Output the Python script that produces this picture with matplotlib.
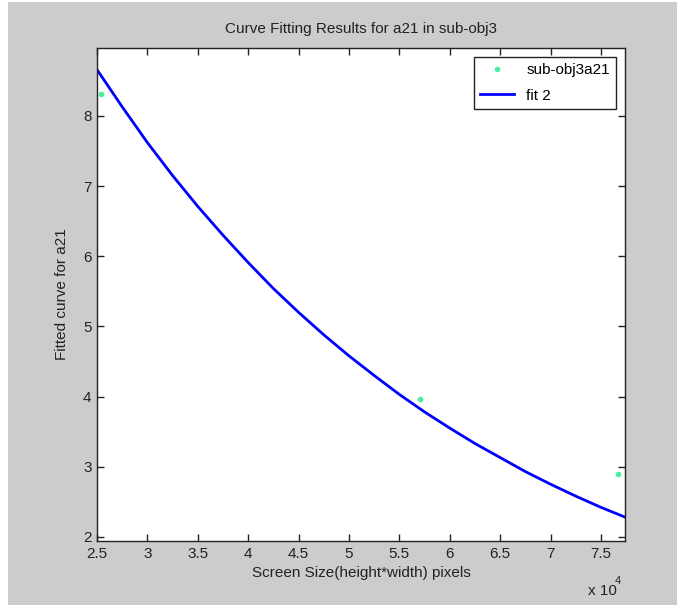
import numpy as np
import matplotlib.pyplot as plt
from matplotlib.patches import Rectangle
from matplotlib.ticker import FuncFormatter

# measured a21 values for sub-obj3
screen_size = [25400, 57040, 76720]
a21 = [8.32, 3.96, 2.90]

# fitted curve (fit 2) sampled along the screen size range
fit_x = [25000, 27500, 30000, 32500, 35000, 37500, 40000, 42500, 45000, 47500, 50000,
         52500, 55000, 57500, 60000, 62500, 65000, 67500, 70000, 72500, 75000, 77400]
fit_y = [8.66, 8.13, 7.62, 7.15, 6.71, 6.30, 5.91, 5.54, 5.20, 4.88, 4.58,
         4.30, 4.03, 3.78, 3.55, 3.33, 3.13, 2.93, 2.75, 2.58, 2.42, 2.28]

x_ticks = [25000, 30000, 35000, 40000, 45000, 50000, 55000, 60000, 65000, 70000, 75000]
y_ticks = [2, 3, 4, 5, 6, 7, 8]

plt.rcParams['font.family'] = ['Liberation Sans', 'DejaVu Sans']
plt.rcParams['font.size'] = 11

fig = plt.figure(figsize=(6.77, 6.05), dpi=100, facecolor='white')
# gray window panel, leaving a thin white edge on the left and top
fig.add_artist(Rectangle((0.0118, 0), 1 - 0.0118, 1 - 0.0033, transform=fig.transFigure,
                         facecolor='#cccccc', edgecolor='none', zorder=-10))

ax = fig.add_axes([0.1433, 0.1058, 0.780, 0.815])
ax.set_facecolor('white')

ax.plot(screen_size, a21, '.', color='#44f0a0', markersize=6, label='sub-obj3a21')
ax.plot(fit_x, fit_y, '-', color='#0000ff', linewidth=2.0, label='fit 2')

ax.set_xlim(25000, 77400)
ax.set_ylim(1.94, 8.97)
ax.set_xticks(x_ticks)
ax.set_yticks(y_ticks)
ax.xaxis.set_major_formatter(FuncFormatter(lambda v, p: ('%g' % (v / 1e4))))

ax.tick_params(direction='in', length=5, width=1, top=True, right=True,
               colors='#222222', labelsize=11, pad=4)
for s in ax.spines.values():
    s.set_color('#222222')
    s.set_linewidth(1)

ax.set_title('Curve Fitting Results for a21 in sub-obj3', fontsize=11, color='#222222', pad=11)
ax.set_xlabel('Screen Size(height*width) pixels', fontsize=11, color='#222222', labelpad=4)
ax.set_ylabel('Fitted curve for a21', fontsize=11, color='#222222', labelpad=10)

# exponent marker for the x axis
fig.text(0.868, 0.011, 'x 10', fontsize=11, color='#222222', ha='left', va='bottom')
fig.text(0.908, 0.031, '4', fontsize=8, color='#222222', ha='left', va='bottom')

leg = ax.legend(loc='upper right', fancybox=False, framealpha=1, edgecolor='#222222',
                borderaxespad=0.6, handlelength=2.2, labelspacing=0.75, fontsize=11)
leg.get_frame().set_linewidth(1)

fig.savefig('out.png', dpi=100, facecolor=fig.get_facecolor())
